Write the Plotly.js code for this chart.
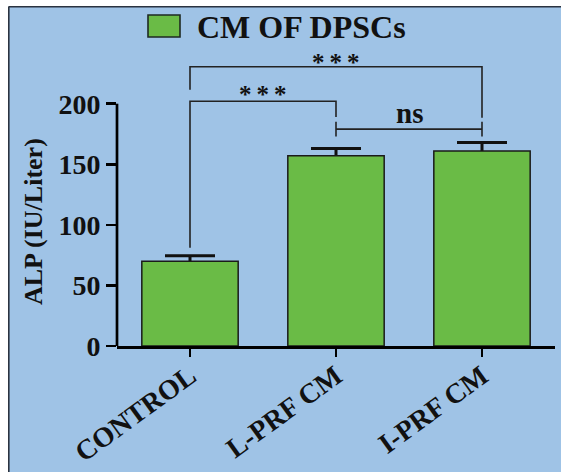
<!DOCTYPE html>
<html>
<head>
<meta charset="utf-8">
<script src="https://cdn.plot.ly/plotly-3.0.1.min.js"></script>
<style>html,body{margin:0;padding:0;background:#fff;}#chart{width:561px;height:472px;}</style>
</head>
<body>
<div id="chart"></div>
<script>
// ---- data ----
const categories = ['CONTROL', 'L-PRF CM', 'I-PRF CM'];
const alpMean = [70, 157, 161];
const alpError = [4.5, 6, 7];
const yTickVals = [0, 50, 100, 150, 200];
const seriesName = 'CM OF DPSCs';
const yTitle = 'ALP (IU/Liter)';
// significance comparisons (category index pairs)
const compFrom = [0, 0, 1];
const compTo = [2, 1, 2];
const compLabel = ['***', '***', 'ns'];

// ---- styling / geometry ----
const W = 561, H = 472;
const M = {l: 117, r: 6, t: 31, b: 126};
const plotW = W - M.l - M.r, plotH = H - M.t - M.b;
const xp = px => (px - M.l) / plotW;          // pixel -> paper x
const yp = py => (H - M.b - py) / plotH;      // pixel -> paper y
const BG = '#9fc3e6', GREEN = '#6abb46', LINE = '#222';
const FONT = 'Liberation Serif, Times New Roman, serif';

// bracket levels (in data units)
const bracketLevel = [230.5, 202, 179];
const legLeftEnd = [211.5, 81, null];
const legRightEnd = [188.5, 189, null];
const labelY = [234, 207.5, 177.5];

const shapes = [];
const annotations = [];

// page frame: white margin top/left, dark border line
shapes.push({type: 'rect', xref: 'paper', yref: 'paper', x0: xp(-2), x1: xp(W + 2), y0: yp(6.5), y1: yp(-2), fillcolor: '#fff', line: {width: 0}});
shapes.push({type: 'rect', xref: 'paper', yref: 'paper', x0: xp(-2), x1: xp(8.5), y0: yp(H + 2), y1: yp(-2), fillcolor: '#fff', line: {width: 0}});
shapes.push({type: 'line', xref: 'paper', yref: 'paper', x0: xp(8.5), x1: xp(W + 2), y0: yp(6.8), y1: yp(6.8), line: {color: '#2b3340', width: 1.6}});
shapes.push({type: 'line', xref: 'paper', yref: 'paper', x0: xp(8.8), x1: xp(8.8), y0: yp(6.8), y1: yp(H + 2), line: {color: '#2b3340', width: 1.6}});

// y axis line from 0 to 200 only
shapes.push({type: 'line', xref: 'paper', yref: 'y', x0: 0, x1: 0, y0: yTickVals[0], y1: yTickVals[yTickVals.length - 1], line: {color: '#000', width: 2.7}});

// brackets
for (let i = 0; i < compFrom.length; i++) {
  const a = compFrom[i], b = compTo[i], lv = bracketLevel[i];
  const isNs = compLabel[i] === 'ns';
  if (isNs) {
    shapes.push({type: 'line', xref: 'x', yref: 'y', x0: a, x1: b, y0: lv, y1: lv, line: {color: LINE, width: 1.6}});
    shapes.push({type: 'line', xref: 'x', yref: 'y', x0: a, x1: a, y0: lv - 6, y1: lv + 6, line: {color: LINE, width: 1.6}});
    shapes.push({type: 'line', xref: 'x', yref: 'y', x0: b, x1: b, y0: lv - 6, y1: lv + 6, line: {color: LINE, width: 1.6}});
  } else {
    shapes.push({type: 'path', xref: 'x', yref: 'y',
      path: 'M' + a + ',' + legLeftEnd[i] + ' L' + a + ',' + lv + ' L' + b + ',' + lv + ' L' + b + ',' + legRightEnd[i],
      line: {color: LINE, width: 1.6}});
  }
  const txt = isNs ? compLabel[i] : compLabel[i].split('').join('\u2009');
  annotations.push({xref: 'x', yref: 'y', x: (a + b) / 2, y: labelY[i], text: '<b>' + txt + '</b>',
    showarrow: false, xanchor: 'center', yanchor: isNs ? 'bottom' : 'middle',
    font: {family: FONT, size: isNs ? 29 : 25, color: '#111'}});
}

// manual legend
shapes.push({type: 'rect', xref: 'paper', yref: 'paper', x0: xp(148), x1: xp(180), y0: yp(37), y1: yp(15), fillcolor: GREEN, line: {color: '#1e2a22', width: 1.6}});
annotations.push({xref: 'paper', yref: 'paper', x: xp(195), y: yp(26.5), text: '<b>' + seriesName + '</b>', showarrow: false,
  xanchor: 'left', yanchor: 'middle', font: {family: FONT, size: 32, color: '#111'}});

// y title
annotations.push({xref: 'paper', yref: 'paper', x: xp(33), y: yp(222), text: '<b>' + yTitle + '</b>', showarrow: false,
  textangle: -90, xanchor: 'center', yanchor: 'middle', font: {family: FONT, size: 26, color: '#111'}});

// error bars (drawn first, lower half hidden by the bars drawn above)
const errTrace = {
  type: 'bar', x: categories, y: alpMean, showlegend: false, width: 0.66, hoverinfo: 'skip',
  marker: {color: 'rgba(0,0,0,0)', line: {width: 0}},
  error_y: {type: 'data', array: alpError, color: '#111', thickness: 3, width: 25}
};
const barTrace = {
  type: 'bar', x: categories, y: alpMean, name: seriesName, showlegend: false,
  width: 0.66,
  marker: {color: GREEN, line: {color: '#1a1a1a', width: 1.5}}
};

const layout = {
  width: W, height: H,
  margin: M,
  paper_bgcolor: BG, plot_bgcolor: BG,
  showlegend: false,
  barmode: 'overlay',
  xaxis: {
    type: 'category', range: [-0.5, 2.5], showgrid: false, zeroline: false,
    showline: true, linecolor: '#000', linewidth: 2.7,
    ticks: 'outside', ticklen: 8, tickwidth: 2.5, tickcolor: '#000',
    tickangle: -36, ticklabelstandoff: -8,
    tickfont: {family: FONT, size: 28, color: '#111', weight: 'bold'},
    fixedrange: true
  },
  yaxis: {
    range: [0, 260], showgrid: false, zeroline: false, showline: false,
    tickmode: 'array', tickvals: yTickVals,
    ticks: 'outside', ticklen: 10, tickwidth: 2.5, tickcolor: '#000',
    tickfont: {family: FONT, size: 28, color: '#111', weight: 'bold'},
    fixedrange: true
  },
  shapes: shapes,
  annotations: annotations
};

Plotly.newPlot('chart', [errTrace, barTrace], layout, {staticPlot: true, displayModeBar: false});
</script>
</body>
</html>
